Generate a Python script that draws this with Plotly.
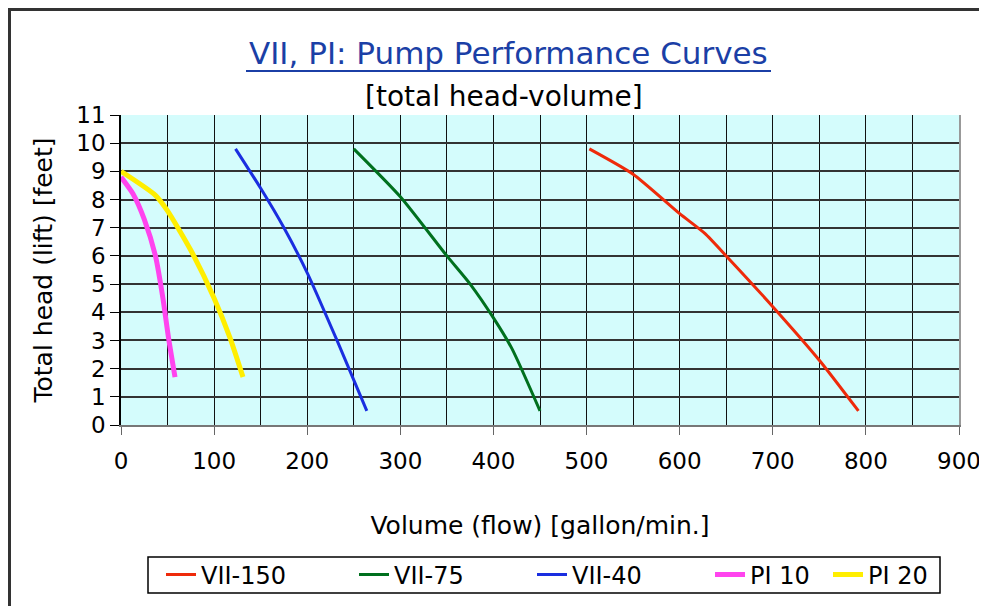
import plotly.graph_objects as go

# ---- data ----
vii150_x = [503, 550, 600, 627, 650, 700, 750, 792]
vii150_y = [9.8, 8.9, 7.5, 6.8, 6.0, 4.2, 2.3, 0.5]

vii75_x = [250, 300, 350, 375, 400, 420, 450]
vii75_y = [9.8, 8.1, 6.0, 5.0, 3.8, 2.7, 0.5]

vii40_x = [123, 150, 175, 200, 232, 264]
vii40_y = [9.8, 8.4, 7.0, 5.4, 3.0, 0.5]

pi10_x = [0, 13, 25, 37, 45, 51, 58]
pi10_y = [8.8, 8.2, 7.3, 6.0, 4.5, 3.1, 1.7]

pi20_x = [0, 37, 50, 75, 100, 117, 131]
pi20_y = [9.0, 8.15, 7.6, 6.2, 4.5, 3.1, 1.7]

series_names = ["VII-150", "VII-75", "VII-40", "PI 10", "PI 20"]
series_x = [vii150_x, vii75_x, vii40_x, pi10_x, pi20_x]
series_y = [vii150_y, vii75_y, vii40_y, pi10_y, pi20_y]
series_colors = ["#ee2a0a", "#00701e", "#1a2ee0", "#ff44ee", "#ffee00"]
series_widths = [3, 3, 3, 5, 5]

x_ticks = list(range(0, 901, 100))
x_grid = list(range(50, 851, 50))
y_ticks = list(range(0, 12))
y_grid = list(range(1, 11))

FONT = "DejaVu Sans"

# layout geometry (page body has an 8px margin)
OFF = 8
W, H = 979, 598
L, R, T, B = 113, 28, 107, 181
PW, PH = W - L - R, H - T - B


def px(page_x):
    return (page_x - OFF - L) / PW


def py(page_y):
    return (H - B - (page_y - OFF)) / PH


fig = go.Figure()

legend_text_x = [201, 394, 572, 750, 868]
legend_names = ["legend", "legend2", "legend3", "legend4", "legend5"]

for i, name in enumerate(series_names):
    fig.add_trace(go.Scatter(
        x=series_x[i], y=series_y[i], name=name, mode="lines",
        line=dict(color=series_colors[i], width=series_widths[i],
                  shape="spline", smoothing=0.6),
        legend=legend_names[i], hoverinfo="x+y+name",
    ))

layout_legends = {}
for i, ln in enumerate(legend_names):
    layout_legends[ln] = dict(
        x=px(legend_text_x[i] - 40), y=py(575), xanchor="left", yanchor="middle",
        orientation="h", bgcolor="rgba(0,0,0,0)", borderwidth=0,
        font=dict(family=FONT, size=24, color="black"),
        itemwidth=30,
    )

fig.update_layout(
    width=W, height=H,
    margin=dict(l=L, r=R, t=T, b=B, autoexpand=False),
    paper_bgcolor="white",
    plot_bgcolor="#d4fcfc",
    font=dict(family=FONT, color="black"),
    showlegend=True,
    **layout_legends,
    xaxis=dict(
        range=[0, 900], tickvals=x_ticks, ticktext=[str(v) for v in x_ticks],
        ticks="outside", ticklen=8, tickcolor="#666", tickwidth=1,
        showline=True, linecolor="#777", linewidth=2,
        showgrid=False, zeroline=False,
        ticklabeloverflow="allow", ticklabelstandoff=6,
        tickfont=dict(family=FONT, size=23, color="black"),
        title=dict(text="Volume (flow) [gallon/min.]",
                   font=dict(family=FONT, size=25, color="black"),
                   standoff=44),
    ),
    xaxis2=dict(
        overlaying="x", anchor="y", range=[0, 900], tickvals=x_grid,
        showticklabels=False, ticks="", showgrid=True,
        gridcolor="#111", gridwidth=1.2, zeroline=False, showline=False,
    ),
    yaxis=dict(
        range=[0, 11], tickvals=y_ticks, ticktext=[str(v) for v in y_ticks],
        ticks="outside", ticklen=9, tickcolor="black", tickwidth=1,
        showline=True, linecolor="black", linewidth=1.5,
        showgrid=False, zeroline=False,
        tickfont=dict(family=FONT, size=23, color="black"),
        title=dict(text="Total head (lift) [feet]",
                   font=dict(family=FONT, size=25, color="black"),
                   standoff=17),
    ),
    yaxis2=dict(
        overlaying="y", anchor="x", side="right", range=[0, 11], tickvals=y_grid,
        showticklabels=False, ticks="", showgrid=True,
        gridcolor="#333", gridwidth=1.5, zeroline=False,
        showline=True, linecolor="#999", linewidth=1.5,
    ),
)

# tiny empty trace so the overlay grid axes render
fig.add_trace(go.Scatter(x=[None], y=[None], xaxis="x2", yaxis="y2",
                         showlegend=False, hoverinfo="skip"))

# title and subtitle
fig.add_annotation(
    x=px(508), y=py(53), xref="paper", yref="paper", showarrow=False,
    text="VII, PI: Pump Performance Curves", xanchor="center", yanchor="middle",
    font=dict(family=FONT, size=31, color="#1b3fa6"),
)
fig.add_annotation(
    x=px(504), y=py(97), xref="paper", yref="paper", showarrow=False,
    text="[total head-volume]", xanchor="center", yanchor="middle",
    font=dict(family=FONT, size=28, color="black"),
)

shapes = [
    # title underline
    dict(type="line", xref="paper", yref="paper", x0=px(246), x1=px(771),
         y0=py(71), y1=py(71), line=dict(color="#1b3fa6", width=2)),
    # outer frame (top and left edges)
    dict(type="line", xref="paper", yref="paper", x0=px(8), x1=px(990),
         y0=py(9.5), y1=py(9.5), line=dict(color="#333", width=3)),
    dict(type="line", xref="paper", yref="paper", x0=px(9.5), x1=px(9.5),
         y0=py(9), y1=py(620), line=dict(color="#333", width=3)),
    # legend box
    dict(type="rect", xref="paper", yref="paper", x0=px(148), x1=px(940),
         y0=py(593), y1=py(557), line=dict(color="black", width=1.5),
         fillcolor="rgba(0,0,0,0)"),
]
fig.update_layout(shapes=shapes)

fig.write_html("out.html")
